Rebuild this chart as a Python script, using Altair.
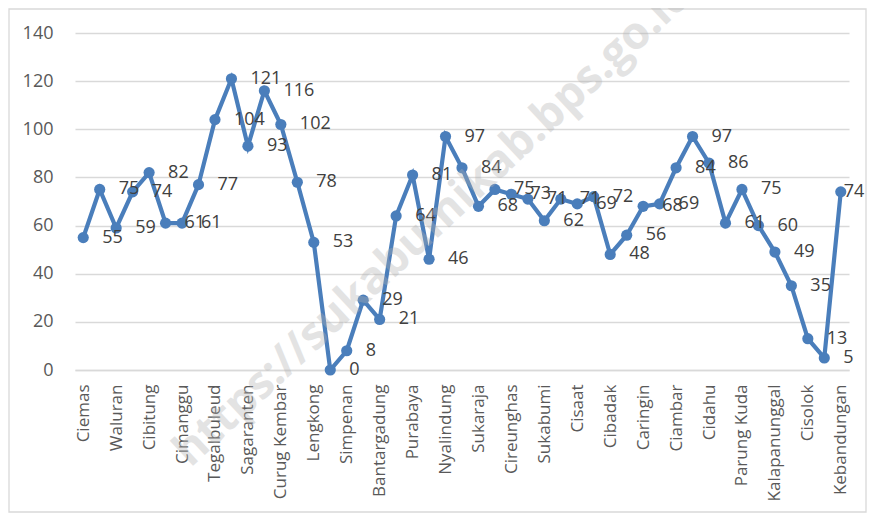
import altair as alt
import pandas as pd

kecamatan = [
    "Ciemas", "Ciracap", "Waluran", "Surade", "Cibitung", "Jampang Kulon",
    "Cimanggu", "Kalibunder", "Tegalbuleud", "Cidolog", "Sagaranten", "Cidadap",
    "Curug Kembar", "Pabuaran", "Lengkong", "Palabuhanratu", "Simpenan",
    "Warungkiara", "Bantargadung", "Jampang Tengah", "Purabaya", "Cikembar",
    "Nyalindung", "Gegerbitung", "Sukaraja", "Kebonpedes", "Cireunghas",
    "Sukalarang", "Sukabumi", "Kadudampit", "Cisaat", "Gunungguruh", "Cibadak",
    "Cicantayan", "Caringin", "Nagrak", "Ciambar", "Cicurug", "Cidahu",
    "Parakansalak", "Parung Kuda", "Bojonggenteng", "Kalapanunggal", "Cikidang",
    "Cisolok", "Cikakak", "Kebandungan",
]
values = [
    55, 75, 59, 74, 82, 61, 61, 77, 104, 121, 93, 116, 102, 78, 53, 0,
    8, 29, 21, 64, 81, 46, 97, 84, 68, 75, 73, 71, 62, 71, 69, 72,
    48, 56, 68, 69, 84, 97, 86, 61, 75, 60, 49, 35, 13, 5, 74,
]
shown_labels = kecamatan[::2]
y_ticks = [0, 20, 40, 60, 80, 100, 120, 140]
watermark = ["https://sukabumikab.bps.go.id"]

df = pd.DataFrame({"kecamatan": kecamatan, "nilai": values, "idx": list(range(len(values)))})

W, H = 774, 337
PAD = {"left": 67, "top": 25, "right": 18, "bottom": 143}
FONT = "Open Sans"
BLUE = "#4a7ebb"
FS = 18

x_enc = alt.X(
    "kecamatan:N",
    sort=None,
    scale=alt.Scale(type="point", padding=0.5),
    axis=alt.Axis(
        values=shown_labels, labelAngle=-90, title=None, ticks=False, grid=False,
        domain=True, domainColor="#d9d9d9", domainWidth=1.3, labelPadding=14,
        labelFontSize=17, labelColor="#595959", labelFont=FONT,
    ),
)
y_enc = alt.Y(
    "nilai:Q",
    scale=alt.Scale(domain=[0, 140], nice=False),
    axis=alt.Axis(
        values=y_ticks, title=None, ticks=False, domain=False, grid=True,
        gridColor="#d9d9d9", gridWidth=1.3, labelPadding=22,
        labelFontSize=FS, labelColor="#595959", labelFont=FONT,
    ),
)

base = alt.Chart(df)
line = base.mark_line(color=BLUE, strokeWidth=4.2).encode(x=x_enc, y=y_enc)
pts = base.mark_circle(color=BLUE, size=125, opacity=1).encode(x=x_enc, y=y_enc)
labels = base.mark_text(
    align="left", baseline="middle", dx=19, fontSize=FS, color="#404040", font=FONT
).encode(x=x_enc, y=y_enc, text="nilai:Q").transform_filter(alt.datum.idx < len(values) - 1)
last_label = base.mark_text(
    align="left", baseline="middle", dx=3, fontSize=FS, color="#404040", font=FONT
).encode(x=x_enc, y=y_enc, text="nilai:Q").transform_filter(alt.datum.idx == len(values) - 1)

wm = alt.Chart(pd.DataFrame({"t": watermark})).mark_text(
    angle=317, fontSize=45, fontWeight="bold", color="#b0b0b0", opacity=0.35,
    font=FONT, align="center", baseline="middle",
).encode(x=alt.value(358), y=alt.value(190), text="t:N")

frame = alt.Chart(pd.DataFrame({"a": [0]})).mark_rect(
    fill="transparent", stroke="#d9d9d9", strokeWidth=1.3
).encode(
    x=alt.value(-PAD["left"] + 1),
    x2=alt.value(W + PAD["right"] - 1),
    y=alt.value(-PAD["top"] + 1),
    y2=alt.value(H + PAD["bottom"] - 1),
)

chart = alt.layer(frame, line, pts, labels, last_label, wm).properties(
    width=W, height=H,
    autosize=alt.AutoSizeParams(type="none"),
    padding=PAD,
).configure_view(strokeWidth=0)

chart.save("out.html", embed_options={"renderer": "svg", "actions": False})
